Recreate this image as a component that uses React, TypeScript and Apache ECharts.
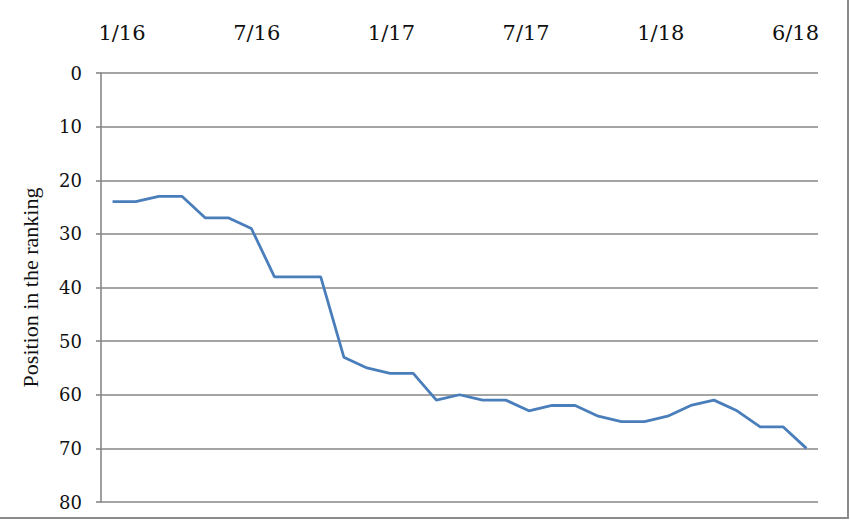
import React, { useEffect, useRef } from "react";
import * as echarts from "echarts";

const monthIndex: string[] = [
  "1", "2", "3", "4", "5", "6", "7", "8", "9", "10",
  "11", "12", "13", "14", "15", "16", "17", "18", "19", "20",
  "21", "22", "23", "24", "25", "26", "27", "28", "29", "30", "31",
];
const positions: number[] = [
  24, 24, 23, 23, 27, 27, 29, 38, 38, 38,
  53, 55, 56, 56, 61, 60, 61, 61, 63, 62,
  62, 64, 65, 65, 64, 62, 61, 63, 66, 66, 70,
];
const dateLabels: string[] = ["1/16", "7/16", "1/17", "7/17", "1/18", "6/18"];
const yTicks = { min: 0, max: 80, interval: 10 };

export default function App() {
  const ref = useRef<HTMLDivElement>(null);
  useEffect(() => {
    if (!ref.current) return;
    const chart = echarts.init(ref.current, null, { renderer: "svg" });
    const gray = "#878787";
    chart.setOption({
      animation: false,
      backgroundColor: "#ffffff",
      grid: { left: 101, right: 32, top: 73, bottom: 18, containLabel: false },
      xAxis: [
        {
          type: "category",
          data: monthIndex,
          boundaryGap: true,
          show: false,
        },
        {
          type: "value",
          position: "top",
          min: -0.156,
          max: 5.167,
          axisLine: { show: false },
          axisTick: { show: false },
          splitLine: { show: false },
          axisLabel: {
            customValues: dateLabels.map((_, i) => i),
            formatter: (v: number) => dateLabels[Math.round(v)] ?? "",
            fontFamily: "DejaVu Serif",
            fontSize: 21,
            color: "#111111",
            margin: 30,
          },
        },
      ],
      yAxis: {
        type: "value",
        inverse: true,
        min: yTicks.min,
        max: yTicks.max,
        interval: yTicks.interval,
        name: "Position in the ranking",
        nameLocation: "middle",
        nameGap: 60,
        nameRotate: 90,
        nameTextStyle: {
          fontFamily: "Liberation Serif",
          fontSize: 22,
          color: "#111111",
        },
        axisLine: { show: true, onZero: false, lineStyle: { color: gray, width: 1.6 } },
        axisTick: { show: true, inside: false, length: 5, lineStyle: { color: gray, width: 1.6 } },
        splitLine: { show: true, lineStyle: { color: gray, width: 1.6 } },
        axisLabel: {
          fontFamily: "DejaVu Serif",
          fontSize: 18,
          color: "#111111",
          margin: 19,
        },
      },
      series: [
        {
          type: "line",
          xAxisIndex: 0,
          data: positions,
          showSymbol: false,
          symbol: "none",
          lineStyle: { color: "#4a7ebb", width: 2.8 },
        },
      ],
    });
    return () => chart.dispose();
  }, []);
  return (
    <div style={{ position: "fixed", left: 0, top: 0, width: 850, height: 520, background: "#fff" }}>
      <div ref={ref} style={{ position: "absolute", left: 0, top: 0, width: 850, height: 520 }} />
      <div
        style={{
          position: "absolute",
          left: 0,
          top: 0,
          width: 849,
          height: 519,
          borderRight: "2px solid #8a8a8a",
          borderBottom: "2px solid #8a8a8a",
          boxSizing: "border-box",
          pointerEvents: "none",
        }}
      />
    </div>
  );
}
